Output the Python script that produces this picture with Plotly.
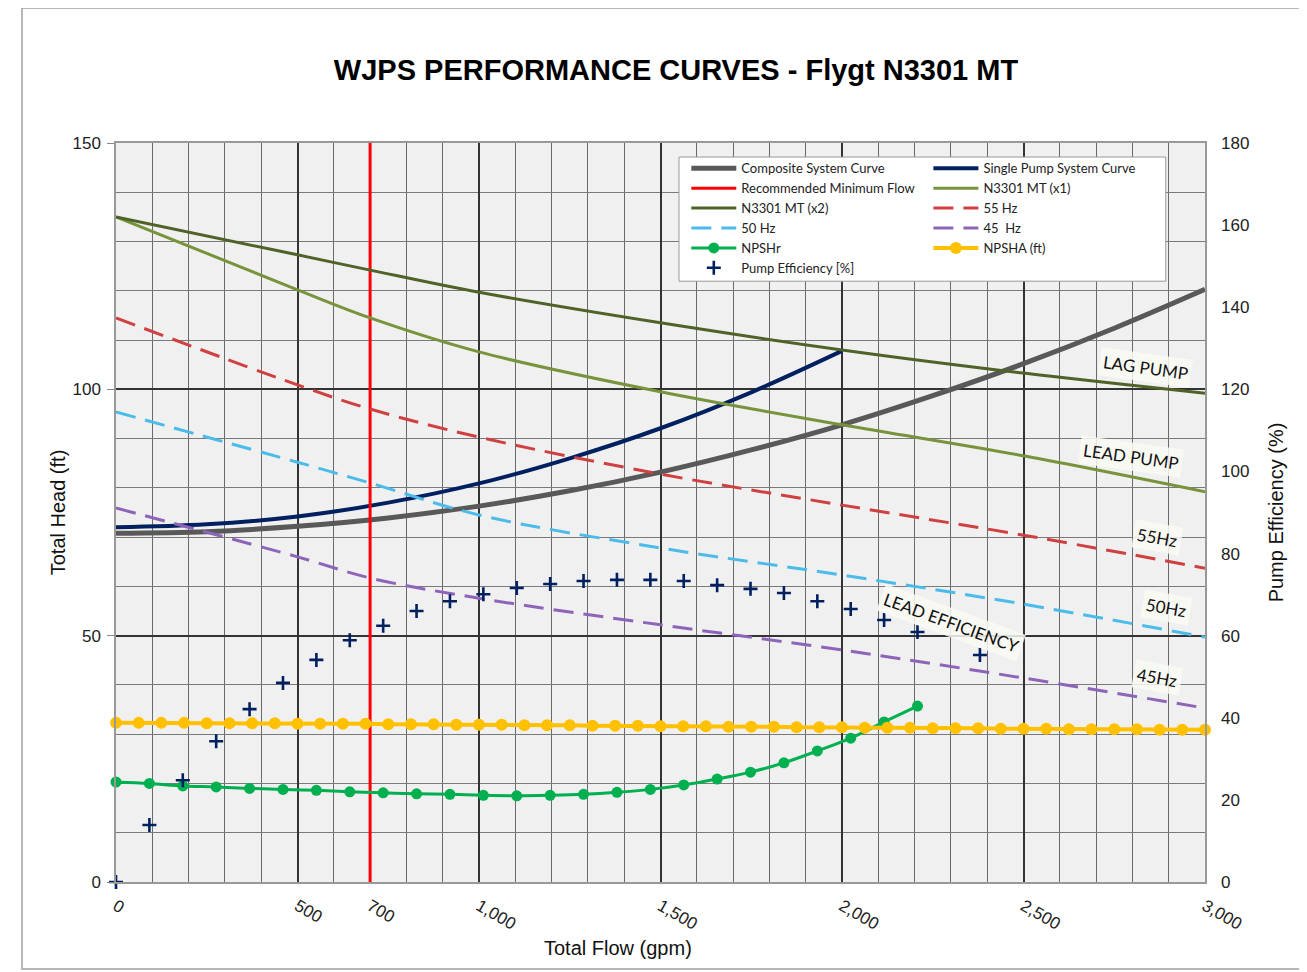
import plotly.graph_objects as go

# ---------------- DATA ----------------
sys_flow = [0, 250, 500, 750, 1000, 1250, 1500, 1750, 2000, 2250, 2500, 2750, 3000]
composite_head = [70.8, 71.1, 72.2, 73.9, 76.3, 79.4, 83.2, 87.7, 92.8, 98.7, 105.2, 112.4, 120.3]

single_flow = [0, 250, 500, 750, 1000, 1250, 1500, 1750, 2000]
single_head = [72.0, 72.6, 74.2, 77.0, 80.9, 86.0, 92.1, 99.4, 107.8]

pump_flow = [0, 500, 700, 1000, 1500, 2000, 2500, 3000]
x1_head = [135.0, 120.2, 114.5, 107.6, 99.5, 92.8, 86.5, 79.2]
x2_head = [135.0, 127.3, 124.2, 119.7, 113.5, 108.0, 103.3, 99.2]
hz55_head = [114.5, 100.9, 96.0, 90.3, 82.8, 76.5, 70.4, 63.7]
hz50_head = [95.4, 85.2, 81.0, 74.5, 67.8, 62.3, 56.4, 49.7]
hz45_head = [75.9, 66.0, 61.7, 57.6, 52.2, 47.1, 41.4, 35.3]

min_flow_x = [700, 700]
min_flow_y = [0, 150]

npshr_flow = [0, 92, 184, 276, 368, 460, 552, 644, 736, 828, 920, 1012, 1104, 1196,
              1288, 1380, 1472, 1564, 1656, 1748, 1840, 1932, 2024, 2116, 2208]
npshr_head = [20.3, 20.0, 19.5, 19.3, 19.0, 18.8, 18.6, 18.3, 18.1, 17.9, 17.8, 17.6, 17.5, 17.6,
              17.8, 18.2, 18.8, 19.7, 20.9, 22.3, 24.2, 26.6, 29.2, 32.5, 35.7]

npsha_flow = [0, 62.5, 125, 187.5, 250, 312.5, 375, 437.5, 500, 562.5, 625, 687.5, 750, 812.5,
              875, 937.5, 1000, 1062.5, 1125, 1187.5, 1250, 1312.5, 1375, 1437.5, 1500, 1562.5,
              1625, 1687.5, 1750, 1812.5, 1875, 1937.5, 2000, 2062.5, 2125, 2187.5, 2250, 2312.5,
              2375, 2437.5, 2500, 2562.5, 2625, 2687.5, 2750, 2812.5, 2875, 2937.5, 3000]
npsha_head = [32.3, 32.3, 32.3, 32.3, 32.2, 32.2, 32.2, 32.2, 32.1, 32.1, 32.1, 32.1, 32.0, 32.0,
              32.0, 31.9, 31.9, 31.9, 31.8, 31.8, 31.8, 31.7, 31.7, 31.7, 31.6, 31.6, 31.6, 31.5,
              31.5, 31.5, 31.4, 31.4, 31.4, 31.3, 31.3, 31.3, 31.2, 31.2, 31.2, 31.1, 31.1, 31.1,
              31.0, 31.0, 31.0, 31.0, 30.9, 30.9, 30.9]

eff_flow = [0, 92, 184, 276, 368, 460, 552, 644, 736, 828, 920, 1012, 1104, 1196,
            1288, 1380, 1472, 1564, 1656, 1748, 1840, 1932, 2024, 2116, 2208, 2380]
eff_pct = [0, 13.9, 24.8, 34.3, 42.1, 48.5, 54.1, 58.9, 62.4, 66.0, 68.4, 70.1, 71.6, 72.6,
           73.3, 73.6, 73.6, 73.3, 72.3, 71.4, 70.4, 68.4, 66.5, 63.8, 60.9, 55.3]

x_tickvals = [0, 500, 700, 1000, 1500, 2000, 2500, 3000]
x_ticktext = ["0", "500", "700", "1,000", "1,500", "2,000", "2,500", "3,000"]

labels = [
    ("LAG PUMP", 2835, 104.5, 8),
    ("LEAD PUMP", 2796, 86.3, 8),
    ("55Hz", 2868, 70.0, 10),
    ("50Hz", 2893, 55.8, 10),
    ("45Hz", 2868, 41.6, 10),
    ("LEAD EFFICIENCY", 2300, 52.6, 20),
]

# ---------------- FIGURE ----------------
fig = go.Figure()
DASH = "20px,10px"

fig.add_trace(go.Scatter(x=sys_flow, y=composite_head, mode="lines", name="Composite System Curve",
                         line=dict(color="#595959", width=5, shape="spline"), legend="legend"))
fig.add_trace(go.Scatter(x=single_flow, y=single_head, mode="lines", name="Single Pump System Curve",
                         line=dict(color="#002060", width=4, shape="spline"), legend="legend2"))
fig.add_trace(go.Scatter(x=min_flow_x, y=min_flow_y, mode="lines", name="Recommended Minimum Flow",
                         line=dict(color="#ff0000", width=3), legend="legend"))
fig.add_trace(go.Scatter(x=pump_flow, y=x1_head, mode="lines", name="N3301 MT (x1)",
                         line=dict(color="#77933c", width=3, shape="spline"), legend="legend2"))
fig.add_trace(go.Scatter(x=pump_flow, y=x2_head, mode="lines", name="N3301 MT (x2)",
                         line=dict(color="#4f6228", width=3, shape="spline"), legend="legend"))
fig.add_trace(go.Scatter(x=pump_flow, y=hz55_head, mode="lines", name="55 Hz",
                         line=dict(color="#d04040", width=3, dash=DASH, shape="spline"), legend="legend2"))
fig.add_trace(go.Scatter(x=pump_flow, y=hz50_head, mode="lines", name="50 Hz",
                         line=dict(color="#4bbbea", width=3, dash=DASH, shape="spline"), legend="legend"))
fig.add_trace(go.Scatter(x=pump_flow, y=hz45_head, mode="lines", name="45  Hz",
                         line=dict(color="#8e64b8", width=3, dash=DASH, shape="spline"), legend="legend2"))
fig.add_trace(go.Scatter(x=npshr_flow, y=npshr_head, mode="lines+markers", name="NPSHr",
                         line=dict(color="#00b050", width=3, shape="spline"),
                         marker=dict(color="#00b050", size=11), legend="legend", cliponaxis=False))
fig.add_trace(go.Scatter(x=npsha_flow, y=npsha_head, mode="lines+markers", name="NPSHA (ft)",
                         line=dict(color="#ffc000", width=4),
                         marker=dict(color="#ffc000", size=12), legend="legend2", cliponaxis=False))
fig.add_trace(go.Scatter(x=eff_flow, y=eff_pct, mode="markers", name="Pump Efficiency [%]",
                         marker=dict(symbol="cross-thin", size=10, color="#002060",
                                     line=dict(color="#002060", width=2.6)),
                         yaxis="y2", legend="legend", cliponaxis=False))

for text, lx, ly, ang in labels:
    fig.add_annotation(x=lx, y=ly, text=text, showarrow=False, textangle=ang,
                       font=dict(family="Lato", size=17, color="#111111"),
                       bgcolor="rgba(250,250,244,0.85)", borderpad=3)

# x-axis title (offset left of centre, as in the original)
fig.add_annotation(xref="paper", yref="paper", x=0.461, y=-0.0893, xanchor="center", yanchor="middle",
                   text="Total Flow (gpm)", showarrow=False,
                   font=dict(family="Liberation Sans, Arial", size=20, color="#111"))

# legend frame
fig.add_shape(type="rect", xref="paper", yref="paper", x0=0.517, x1=0.964, y0=0.813, y1=0.981,
              line=dict(color="#999999", width=1), fillcolor="white", layer="above")
# outer chart frame
fig.add_shape(type="rect", xref="paper", yref="paper", x0=-0.0863, x1=1.0927, y0=-0.1177, y1=1.1827,
              line=dict(color="#a0a0a0", width=1.5), fillcolor="rgba(0,0,0,0)", layer="above")

legend_common = dict(bgcolor="rgba(0,0,0,0)", borderwidth=0, orientation="v",
                     font=dict(family="Lato", size=13, color="#222222"),
                     xanchor="left", yanchor="top", itemwidth=45, tracegroupgap=0)

fig.update_layout(
    width=1299, height=964,
    margin=dict(l=108, r=102, t=135, b=90),
    paper_bgcolor="white",
    plot_bgcolor="#f0f0f0",
    title=dict(text="<b>WJPS PERFORMANCE CURVES - Flygt N3301 MT</b>",
               font=dict(family="Liberation Sans, Arial", size=29, color="black"),
               x=(676 - 8) / 1299, xanchor="center", y=1 - (70 - 8) / 964, yanchor="middle"),
    legend=dict(x=0.5237, y=0.986, **legend_common),
    legend2=dict(x=0.746, y=0.986, **legend_common),
    xaxis=dict(range=[0, 3000], tickvals=x_tickvals, ticktext=x_ticktext, tickangle=30,
               tickfont=dict(family="Liberation Sans, Arial", size=17, color="#222"),
               ticklabelstandoff=6,
               showgrid=True, gridcolor="#333333", gridwidth=2,
               minor=dict(dtick=100, showgrid=True, gridcolor="#6a6a6a", gridwidth=1),
               showline=True, linecolor="#999999", linewidth=1.5, mirror=True,
               zeroline=False, ticks=""),
    yaxis=dict(range=[0, 150], tickvals=[0, 50, 100, 150],
               tickfont=dict(family="Liberation Sans, Arial", size=17, color="#222"),
               ticklabelstandoff=3,
               showgrid=True, gridcolor="#333333", gridwidth=1.5,
               minor=dict(dtick=10, showgrid=True, gridcolor="#7a7a7a", gridwidth=1),
               showline=True, linecolor="#999999", linewidth=1.5, mirror=True,
               zeroline=False, ticks="outside", ticklen=7, tickcolor="#888",
               title=dict(text="Total Head (ft)", standoff=1,
                          font=dict(family="Liberation Sans, Arial", size=20, color="#111"))),
    yaxis2=dict(range=[0, 180], dtick=20, overlaying="y", side="right",
                tickfont=dict(family="Liberation Sans, Arial", size=17, color="#222"),
                ticklabelstandoff=15,
                showgrid=False, zeroline=False, showline=False, ticks="",
                title=dict(text="Pump Efficiency (%)", standoff=20,
                           font=dict(family="Liberation Sans, Arial", size=20, color="#111"))),
)

fig.write_html("out.html")
